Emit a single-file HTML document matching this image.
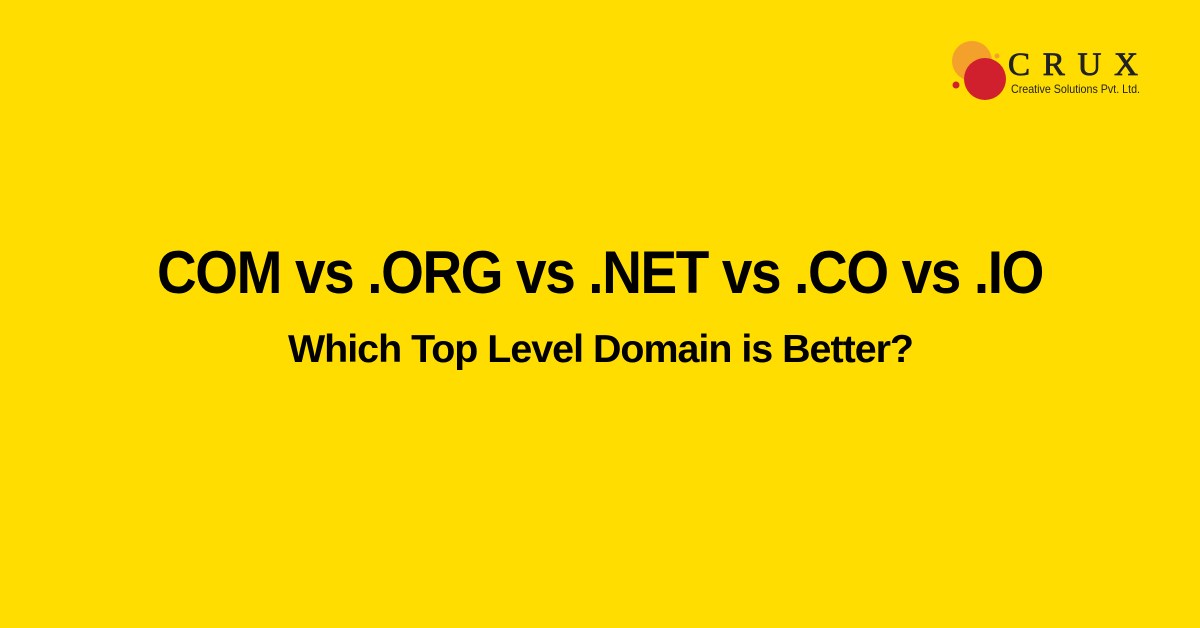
<!DOCTYPE html>
<html><head><meta charset="utf-8"><style>
html,body{margin:0;padding:0;background:#FFDD00;}
svg{display:block;}
</style></head><body>
<svg width="1200" height="628" viewBox="0 0 1200 628" xmlns="http://www.w3.org/2000/svg">
<rect width="1200" height="628" fill="#FFDD00"/>
<circle cx="972" cy="61" r="20" fill="#F4A12C"/>
<circle cx="985" cy="79" r="21" fill="#D0202E"/>
<circle cx="956" cy="85" r="3.5" fill="#D0202E"/>
<circle cx="997" cy="56" r="2.5" fill="#F4A12C"/>
<text x="1008" y="75" font-family="Liberation Serif, serif" font-size="33" fill="#222" stroke="#222" stroke-width="0.8" textLength="130" lengthAdjust="spacing">CRUX</text>
<text x="1011" y="93" font-family="Liberation Sans, sans-serif" font-size="12" fill="#222" textLength="129" lengthAdjust="spacingAndGlyphs">Creative Solutions Pvt. Ltd.</text>
<text x="157" y="293" font-family="Liberation Sans, sans-serif" font-weight="bold" font-size="60" letter-spacing="-1.5" fill="#000" textLength="886" lengthAdjust="spacingAndGlyphs">COM vs .ORG vs .NET vs .CO vs .IO</text>
<text x="288" y="362" font-family="Liberation Sans, sans-serif" font-weight="bold" font-size="39" letter-spacing="-1" fill="#000" textLength="625" lengthAdjust="spacingAndGlyphs">Which Top Level Domain is Better?</text>
</svg>
</body></html>
